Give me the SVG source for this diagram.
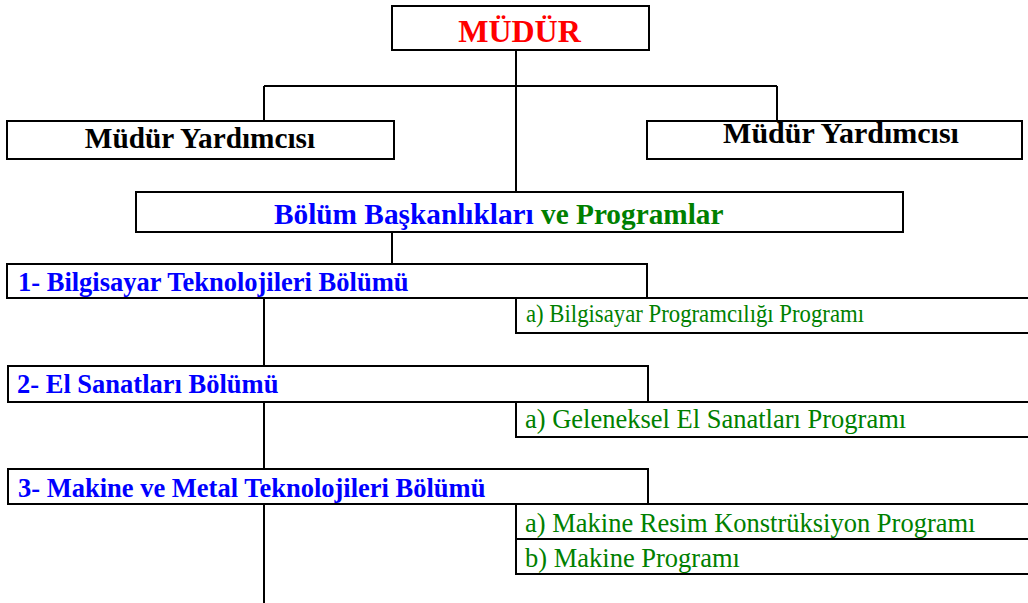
<svg xmlns="http://www.w3.org/2000/svg" width="1028" height="603" viewBox="0 0 1028 603">
<style>
  .box { fill: #ffffff; stroke: #000000; stroke-width: 2; }
  .ln { stroke: #000000; stroke-width: 2; fill: none; }
  .t { font-family: "Liberation Serif", "Times New Roman", serif; }
  .b { font-weight: bold; }
  .red { fill: #ff0000; }
  .blue { fill: #0000ff; }
  .green { fill: #008000; }
  .black { fill: #000000; }
</style>
<rect x="0" y="0" width="1028" height="603" fill="#ffffff"/>
<g id="connectors">
  <line class="ln" x1="516" y1="50" x2="516" y2="192"/>
  <line class="ln" x1="264" y1="86" x2="777" y2="86"/>
  <line class="ln" x1="264" y1="86" x2="264" y2="121"/>
  <line class="ln" x1="777" y1="86" x2="777" y2="121"/>
  <line class="ln" x1="392" y1="232" x2="392" y2="264"/>
  <line class="ln" x1="264" y1="298" x2="264" y2="366"/>
  <line class="ln" x1="264" y1="402" x2="264" y2="469"/>
  <line class="ln" x1="264" y1="504" x2="264" y2="603"/>
</g>
<g id="mudur">
  <rect class="box" x="392" y="6" width="257" height="44"/>
  <text class="t b red" x="519.5" y="42" font-size="32" text-anchor="middle">MÜDÜR</text>
</g>
<g id="yardimci-left">
  <rect class="box" x="7" y="121" width="387" height="38"/>
  <text class="t b black" x="200" y="148" font-size="29.3" text-anchor="middle">Müdür Yardımcısı</text>
</g>
<g id="yardimci-right">
  <rect class="box" x="647" y="121" width="375" height="38"/>
  <text class="t b black" x="841" y="143" font-size="30" text-anchor="middle">Müdür Yardımcısı</text>
</g>
<g id="bolum-baskanliklari">
  <rect class="box" x="136" y="192" width="767" height="40"/>
  <text class="t b" x="274" y="223.5" font-size="29.3"><tspan class="blue">Bölüm Başkanlıkları</tspan><tspan class="green"> ve Programlar</tspan></text>
</g>
<g id="bolum-1">
  <rect class="box" x="7" y="264" width="640" height="34"/>
  <text class="t b blue" x="18" y="291" font-size="26.5">1- Bilgisayar Teknolojileri Bölümü</text>
</g>
<g id="program-1a">
  <rect class="box" x="516" y="298" width="520" height="35"/>
  <text class="t green" x="526" y="322" font-size="25" textLength="338" lengthAdjust="spacingAndGlyphs">a) Bilgisayar Programcılığı Programı</text>
</g>
<g id="bolum-2">
  <rect class="box" x="8" y="366" width="640" height="36"/>
  <text class="t b blue" x="17" y="393" font-size="26.5">2- El Sanatları Bölümü</text>
</g>
<g id="program-2a">
  <rect class="box" x="516" y="402" width="520" height="35"/>
  <text class="t green" x="525" y="428" font-size="26.5">a) Geleneksel El Sanatları Programı</text>
</g>
<g id="bolum-3">
  <rect class="box" x="8" y="469" width="640" height="35"/>
  <text class="t b blue" x="18" y="497" font-size="26.5">3- Makine ve Metal Teknolojileri Bölümü</text>
</g>
<g id="program-3a">
  <rect class="box" x="516" y="504" width="520" height="35"/>
  <text class="t green" x="525" y="532" font-size="26.5">a) Makine Resim Konstrüksiyon Programı</text>
</g>
<g id="program-3b">
  <rect class="box" x="516" y="539" width="520" height="35"/>
  <text class="t green" x="525" y="567" font-size="26.5">b) Makine Programı</text>
</g>
</svg>
